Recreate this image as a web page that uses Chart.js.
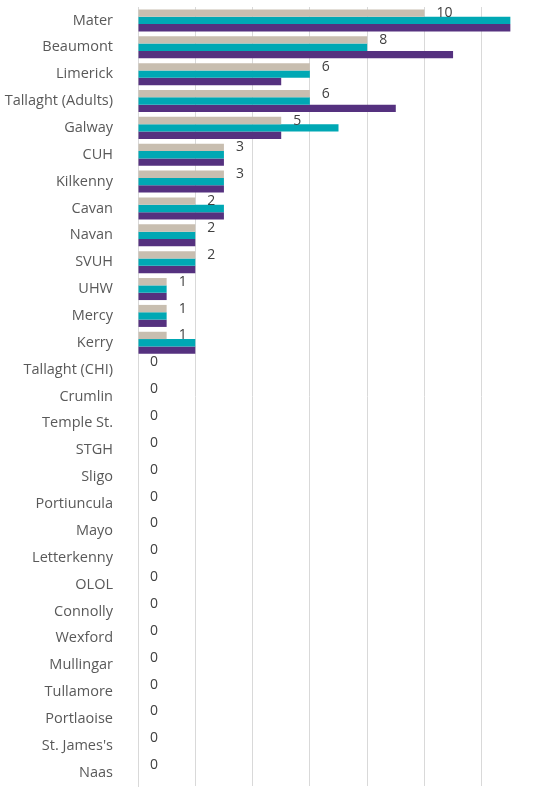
<!DOCTYPE html>
<html>
<head>
<meta charset="utf-8">
<script src="https://cdn.jsdelivr.net/npm/chart.js@4.4.1/dist/chart.umd.min.js"></script>
<style>
    html, body { margin: 0; padding: 0; background: #fff; }
    #wrap { width: 539px; height: 787px; }
</style>
</head>
<body>
<div id="wrap"><canvas id="chart"></canvas></div>
<script>
const hospitals = ['Mater', 'Beaumont', 'Limerick', 'Tallaght (Adults)', 'Galway', 'CUH', 'Kilkenny', 'Cavan', 'Navan', 'SVUH', 'UHW', 'Mercy', 'Kerry',
    'Tallaght (CHI)', 'Crumlin', 'Temple St.', 'STGH', 'Sligo', 'Portiuncula', 'Mayo', 'Letterkenny', 'OLOL', 'Connolly', 'Wexford', 'Mullingar',
    'Tullamore', 'Portlaoise', "St. James's", 'Naas'];
const seriesA = [10, 8, 6, 6, 5, 3, 3, 2, 2, 2, 1, 1, 1, 0, 0, 0, 0, 0, 0, 0, 0, 0, 0, 0, 0, 0, 0, 0, 0];
const seriesB = [13, 8, 6, 6, 7, 3, 3, 3, 2, 2, 1, 1, 2, 0, 0, 0, 0, 0, 0, 0, 0, 0, 0, 0, 0, 0, 0, 0, 0];
const seriesC = [13, 11, 5, 9, 5, 3, 3, 3, 2, 2, 1, 1, 2, 0, 0, 0, 0, 0, 0, 0, 0, 0, 0, 0, 0, 0, 0, 0, 0];
const colors = ['#c8beb0', '#00a8b4', '#55317f'];

// value labels only on the first (beige) series, like the original
const labelPlugin = {
    id: 'beigeLabels',
    afterDatasetsDraw(chart) {
        const ctx = chart.ctx;
        const meta = chart.getDatasetMeta(0);
        ctx.save();
        ctx.font = '14px "Open Sans", sans-serif';
        ctx.fillStyle = '#404040';
        ctx.textAlign = 'left';
        ctx.textBaseline = 'middle';
        meta.data.forEach((bar, i) => {
            ctx.fillText(String(seriesA[i]), bar.x + 12, bar.y);
        });
        ctx.restore();
    },
};

new Chart(document.getElementById('chart'), {
    type: 'bar',
    data: {
        labels: hospitals,
        datasets: [seriesA, seriesB, seriesC].map((data, i) => ({
            data,
            backgroundColor: colors[i],
            categoryPercentage: 0.82,
            barPercentage: 1.0,
        })),
    },
    options: {
        indexAxis: 'y',
        responsive: true,
        maintainAspectRatio: false,
        animation: false,
        layout: { padding: { top: 7, bottom: 1, left: 0, right: 0 } },
        plugins: { legend: { display: false }, tooltip: { enabled: false } },
        scales: {
            x: {
                min: 0,
                max: 14,
                ticks: { display: false, stepSize: 2 },
                grid: { color: '#d9d9d9', drawTicks: false },
                border: { display: false },
                afterFit: (scale) => { scale.height = 0; },
            },
            y: {
                grid: { display: false },
                border: { color: '#d9d9d9' },
                ticks: { color: '#595959', font: { size: 14.5, family: '"Open Sans", sans-serif' }, padding: 17, autoSkip: false },
                afterFit: (scale) => {
                    scale.width = 138;
                    scale.paddingTop = 0;
                    scale.paddingBottom = 0;
                },
            },
        },
    },
    plugins: [labelPlugin],
});
</script>
</body>
</html>
